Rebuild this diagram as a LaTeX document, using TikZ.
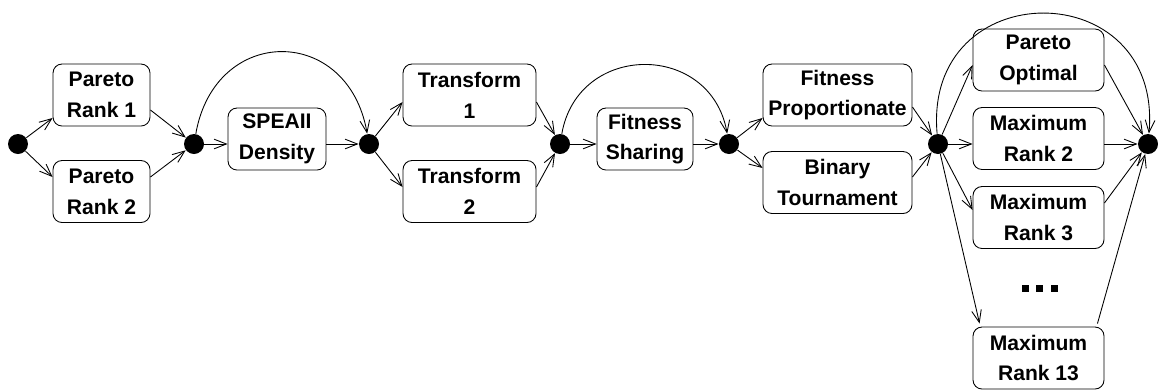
\documentclass[tikz,border=0pt]{standalone}
\usepackage{fontspec}
\setmainfont{Liberation Sans}
\usetikzlibrary{arrows.meta}

\begin{document}
\begin{tikzpicture}[>={Straight Barb[length=7pt,width=5.5pt]}, line width=0.5pt,
  dot/.style={fill=black,circle,minimum size=0.4cm,inner sep=0pt},
  box/.style={draw,rounded corners=0.18cm,align=center,minimum height=1.24cm,inner sep=0pt,font=\fontsize{12}{17.5}\selectfont\bfseries}]
  \useasboundingbox (0,0) rectangle (23.16,7.78);

  \node[dot] (d1) at (0.36,4.9) {};
  \node[dot] (d2) at (3.88,4.9) {};
  \node[dot] (d3) at (7.38,4.9) {};
  \node[dot] (d4) at (11.2,4.9) {};
  \node[dot] (d5) at (14.58,4.9) {};
  \node[dot] (d6) at (18.76,4.9) {};
  \node[dot] (d7) at (22.96,4.9) {};

  \node[box,minimum width=1.94cm] (pr1) at (2.03,5.88) {Pareto\\Rank 1};
  \node[box,minimum width=1.94cm] (pr2) at (2.03,3.95) {Pareto\\Rank 2};
  \node[box,minimum width=1.96cm] (spea) at (5.54,5.0) {SPEAII\\Density};
  \node[box,minimum width=2.66cm] (tr1) at (9.39,5.88) {Transform\\1};
  \node[box,minimum width=2.66cm] (tr2) at (9.39,3.95) {Transform\\2};
  \node[box,minimum width=1.92cm] (fs) at (12.9,5.0) {Fitness\\Sharing};
  \node[box,minimum width=2.98cm] (fp) at (16.75,5.88) {Fitness\\Proportionate};
  \node[box,minimum width=2.98cm] (bt) at (16.75,4.13) {Binary\\Tournament};
  \node[box,minimum width=2.62cm] (po) at (20.77,6.58) {Pareto\\Optimal};
  \node[box,minimum width=2.62cm] (mr2) at (20.77,5.01) {Maximum\\Rank 2};
  \node[box,minimum width=2.62cm] (mr3) at (20.77,3.43) {Maximum\\Rank 3};
  \node[box,minimum width=2.62cm] (mr13) at (20.77,0.62) {Maximum\\Rank 13};

  \foreach \x in {20.5,20.79,21.08}
    \fill (\x-0.07,1.95) rectangle (\x+0.07,2.09);

  \draw[->] (d1) -- ([yshift=-0.46cm]pr1.west);
  \draw[->] (d1) -- ([yshift=0.29cm]pr2.west);
  \draw[->] ([yshift=-0.3cm]pr1.east) -- (d2);
  \draw[->] ([yshift=0.29cm]pr2.east) -- (d2);
  \draw[->] (d2) -- (spea.west |- d2);
  \draw[->] (spea.east |- d3) -- (d3);
  \draw[->] (d2) to[out=80,in=100,looseness=1.66] (d3);

  \draw[->] (d3) -- ([yshift=-0.14cm]tr1.west);
  \draw[->] (d3) -- ([yshift=0.09cm]tr2.west);
  \draw[->] ([yshift=-0.14cm]tr1.east) -- (d4);
  \draw[->] ([yshift=0.09cm]tr2.east) -- (d4);
  \draw[->] (d4) -- (fs.west |- d4);
  \draw[->] (fs.east |- d5) -- (d5);
  \draw[->] (d4) to[out=80,in=100,looseness=1.45] (d5);

  \draw[->] (d5) -- ([yshift=-0.46cm]fp.west);
  \draw[->] (d5) -- ([yshift=0.29cm]bt.west);
  \draw[->] ([yshift=-0.24cm]fp.east) -- (d6);
  \draw[->] ([yshift=0.11cm]bt.east) -- (d6);

  \draw[->] (d6) -- ([yshift=-0.1cm]po.west);
  \draw[->] (d6) -- (mr2.west |- d6);
  \draw[->] (d6) -- ([yshift=0.15cm]mr3.west);
  \draw[->] (d6) -- ([xshift=0.14cm,yshift=0.06cm]mr13.north west);
  \draw[->] ([yshift=-0.1cm]po.east) -- (d7);
  \draw[->] (mr2.east |- d7) -- (d7);
  \draw[->] ([yshift=0.29cm]mr3.east) -- (d7);
  \draw[->] ([xshift=-0.14cm,yshift=0.06cm]mr13.north east) -- (d7);
  \draw[->] (d6) to[out=95,in=85,looseness=1.95] (d7);
\end{tikzpicture}
\end{document}
